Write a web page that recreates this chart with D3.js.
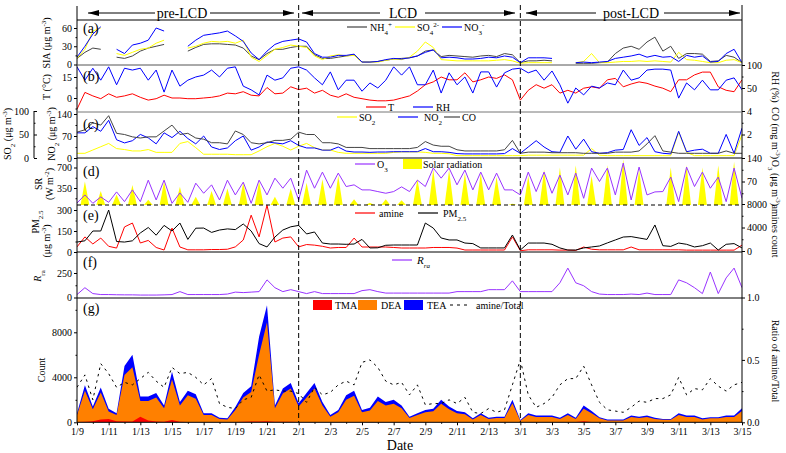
<!DOCTYPE html>
<html><head><meta charset="utf-8">
<script src="https://cdn.jsdelivr.net/npm/d3@7"></script>
<style>body{margin:0;background:#fff}svg{display:block}text{font-family:"Liberation Serif","Times New Roman",serif;fill:#000}</style>
</head><body><svg id="c" width="786" height="453"></svg>
<script>
// ---------------- DATA (two samples per day, index k -> day k/2) ----------------
const dayLabels = ["1/9","1/11","1/13","1/15","1/17","1/19","1/21","2/1","2/3","2/5","2/7","2/9","2/11","2/13","3/1","3/3","3/5","3/7","3/9","3/11","3/13","3/15"];
const periods = ["pre-LCD","LCD","post-LCD"];
// (a) SIA
const nh4 = [10,20,27,25,null,12,10,14,22,27,30,33,null,null,22,28,33,34,34,33,32,27,14,8,18,25,25,28,30,
 30,16,10,10,12,14,16,4,4,5,7,9,10,11,14,22,24,13,15,14,13,12,14,15,13,18,16,3,
 6,6,7,6,null,null,2,2,2,3,4,18,27,30,25,37,45,22,30,10,18,18,17,5,6,15,12,3];
const so4 = [10,25,55,60,null,18,15,20,25,27,35,40,null,null,27,30,35,38,37,38,35,40,12,5,15,25,28,32,30,
 28,14,8,14,16,14,15,4,4,4,7,9,8,12,22,37,28,8,7,6,6,6,6,6,7,8,6,2,
 3,3,3,3,null,null,3,5,18,3,3,4,5,5,6,5,6,5,4,20,8,7,5,3,3,7,8,3];
const no3 = [12,30,50,62,null,25,18,32,35,40,60,55,null,null,30,40,48,50,52,55,47,38,19,8,22,33,38,40,42,
 37,18,12,12,15,15,17,4,4,5,8,10,9,11,14,20,24,11,12,11,9,9,10,12,11,14,12,3,
 11,11,11,10,null,null,3,4,3,4,5,10,12,14,17,12,15,12,13,5,15,12,14,4,5,18,25,3];
// (b) T and RH
const temp = [-8,4,1.5,-0.5,3,0.5,1.5,3,0.5,-1.5,-0.5,2,0,0,-0.5,-0.5,0,0.5,1.5,3.5,3,4.5,2,1.5,7.5,3,3.5,8,6,
 7,3.5,5.5,2,0.5,3,0.5,-0.5,-1.5,-2,-2,-1.5,0,1.5,5,9.5,11.5,15,13,13,18,11.5,13,15,14,16.5,13,-1.5,
 5.5,9.5,7,9.5,3.5,5.5,3.5,7,8,7,13,14,8,10,11.5,10.5,8.5,7,4.5,13,13,16.5,18.5,18.5,8,5.5,4.5,13];
const rh = [96,67,93,67,96,57,93,89,93,67,89,41,89,54,67,74,78,89,74,93,96,54,46,35,78,67,72,93,96,
 89,72,57,85,46,67,67,43,61,50,67,96,78,96,57,57,89,39,83,57,74,39,85,85,52,83,91,93,
 83,89,67,87,57,17,50,35,54,50,61,57,89,67,72,89,91,91,89,28,61,46,67,46,46,67,72,46];
// (c) SO2, NO2, CO
const so2 = [10,10,17,24,31,20,18,15,15,18,12,12,12,31,35,22,8,8,8,8,7,7,7,15,24,31,25,17,25,
 31,22,17,17,12,10,10,10,10,10,10,12,13,13,13,12,10,10,9,5,5,5,5,5,5,5,5,5,
 6,6,6,6,6,6,6,6,20,6,5,5,5,5,5,5,5,5,5,55,12,5,5,5,5,5,5,50];
const no2 = [80,80,100,85,120,58,48,55,75,64,45,80,65,85,62,45,70,35,27,32,55,70,25,35,51,48,45,55,40,
 32,32,25,25,35,22,19,19,18,19,19,20,20,20,20,30,20,20,18,14,13,13,13,13,13,14,30,15,
 35,55,35,20,18,70,28,60,20,15,17,25,27,90,40,65,20,15,13,85,20,25,28,15,15,75,15,95];
const co = [2.2,2.4,3.0,2.8,3.6,2.1,2.0,1.8,1.7,1.8,1.8,2.3,2.8,2.0,2.1,1.7,1.6,1.3,1.3,1.2,2.3,2.0,1.3,1.2,1.3,1.5,1.5,1.6,2.2,
 2.0,2.0,1.3,1.3,1.2,0.9,0.9,0.9,0.8,0.8,0.8,0.8,0.8,0.8,0.9,1.4,1.1,1.0,1.0,0.7,0.6,0.6,0.6,0.6,0.6,0.7,1.5,0.4,
 0.5,0.5,0.5,0.45,0.45,0.45,0.45,0.4,0.4,0.4,0.4,0.5,0.5,0.5,0.6,1.2,1.9,0.6,0.5,0.4,0.4,0.4,0.4,0.4,0.4,0.6,0.4,0.4];
// (d) O3 and daily solar radiation peak (one per day)
const o3 = [6,30,5,24,8,39,10,45,10,74,15,74,5,36,8,65,35,60,15,74,30,68,5,74,30,80,50,80,15,
 104,50,98,50,95,55,60,45,45,40,35,40,54,40,74,55,110,80,110,60,104,45,98,45,95,45,45,30,
 98,40,98,35,89,30,95,20,110,70,110,30,125,15,113,30,39,40,83,10,113,55,98,50,83,10,110,20];
const srPeak = [460,300,240,400,150,460,370,200,300,340,440,460,200,340,
 440,500,560,160,100,160,140,500,660,660,600,600,540,80,
 560,660,700,740,560,740,840,660,60,700,740,700,740,800];
// (e) PM2.5 and amine count
const pm25 = [71,80,150,150,300,75,71,80,136,175,120,190,150,207,90,170,171,140,157,165,160,200,150,60,36,107,157,180,190,
 129,143,64,57,57,55,57,90,29,30,48,50,50,50,50,207,171,100,86,86,64,60,29,29,29,29,121,14,
 64,64,64,55,29,14,14,29,36,43,65,86,107,110,100,90,193,45,40,64,55,36,45,64,14,55,60,29];
const amine = [700,2400,1200,2200,800,500,4100,4760,1360,1800,600,170,3900,680,200,200,200,250,250,300,700,1870,6100,2400,7800,1530,2200,2400,700,
 1100,1000,800,510,600,600,2200,680,680,680,680,600,510,510,510,510,600,600,600,500,170,170,170,170,170,170,2400,50,
 200,200,200,200,150,150,100,680,300,200,200,200,200,680,200,200,200,200,200,200,150,150,150,150,150,150,150,1000];
// (f) R_ra
const rra = [30,100,40,30,30,28,27,27,25,25,25,27,30,60,30,30,30,30,30,35,55,50,55,60,180,100,60,80,60,
 40,60,40,40,40,40,40,70,80,60,45,45,45,45,45,45,45,45,45,60,60,60,60,80,80,80,170,60,
 60,60,60,60,150,300,150,120,60,35,30,30,30,35,30,45,30,30,30,180,150,100,40,260,40,200,300,100];
// (g) amine counts and ratio
const tma = [30,50,100,250,300,100,80,80,500,150,80,50,200,50,30,30,30,30,30,30,30,40,80,80,100,50,50,50,30,
 20,20,20,20,20,20,20,20,20,20,20,20,20,20,20,20,20,20,20,20,20,20,20,20,20,20,20,20,
 20,20,20,20,20,20,20,100,20,20,20,20,20,20,20,20,20,20,20,20,20,20,20,20,20,20,20,20];
const dea = [620,2750,1050,2400,650,550,4120,4820,1400,1750,2120,1200,3600,1450,2370,2070,620,620,270,220,1070,2160,2620,5920,8800,1200,2500,2950,1370,
 2180,2980,1480,480,880,1980,2330,880,1030,1880,1480,1630,1230,360,630,880,960,1630,1130,780,700,230,630,280,360,360,1680,120,
 630,450,450,450,280,630,280,1100,780,330,150,150,150,450,360,450,280,200,200,630,450,450,240,330,330,450,450,980];
const tea = [150,500,250,450,250,150,800,1100,400,400,400,250,700,300,400,400,150,150,100,100,250,400,500,1600,1500,250,450,500,300,
 400,500,300,150,200,400,450,200,250,400,300,350,250,120,150,200,220,350,250,200,180,100,150,100,120,120,300,60,
 150,130,130,130,100,150,100,300,200,100,80,80,80,130,120,130,100,80,80,150,130,130,90,100,100,130,130,250];
const ratio = [0.28,0.38,0.18,0.47,0.39,0.28,0.32,0.30,0.35,0.40,0.33,0.28,0.44,0.39,0.40,0.36,0.30,0.35,0.15,0.12,0.11,0.18,0.20,0.38,0.25,0.26,0.25,0.25,0.23,
 0.16,0.28,0.22,0.24,0.30,0.33,0.30,0.48,0.50,0.44,0.33,0.30,0.32,0.22,0.30,0.14,0.15,0.15,0.18,0.15,0.20,0.08,0.07,0.11,0.08,0.10,0.30,0.50,
 0.22,0.12,0.15,0.20,0.30,0.35,0.35,0.45,0.30,0.16,0.10,0.09,0.08,0.12,0.17,0.16,0.19,0.19,0.22,0.36,0.22,0.27,0.26,0.35,0.29,0.25,0.30,0.32];

// ---------------- LAYOUT ----------------
const svg = d3.select("#c");
const X0 = 77, X1 = 742;
const x = d3.scaleLinear().domain([0, 42]).range([X0, X1]);
const P = {a:[20,65], b:[65,112], c:[112,158], d:[158,205], e:[205,252], f:[252,298], g:[298,422.3]};
const C = {black:"#000", grey:"#444", yellow:"#ffff00", blue:"#0000ff", red:"#ff0000", purple:"#9933ff", orange:"#ff8000"};

const defs = svg.append("defs");
Object.entries(P).forEach(([k,[t,b]]) => {
  defs.append("clipPath").attr("id","cp-"+k).append("rect").attr("x",X0).attr("y",t).attr("width",X1-X0).attr("height",b-t);
});

// scales
const ySIA = d3.scaleLinear().domain([0,60]).range([64.5,28]);
const yT = d3.scaleLinear().domain([0,15]).range([98,77]);
const yRH = d3.scaleLinear().domain([0,100]).range([111,65]);
const yNO2 = d3.scaleLinear().domain([0,140]).range([158,114]);
const ySO2 = d3.scaleLinear().domain([0,100]).range([158,111]);
const yCO = d3.scaleLinear().domain([0,4]).range([158,111]);
const ySR = d3.scaleLinear().domain([0,700]).range([208.5,167.5]);
const yO3 = d3.scaleLinear().domain([0,140]).range([205,158]);
const yPM = d3.scaleLinear().domain([0,300]).range([252,210]);
const yAm = d3.scaleLinear().domain([0,8000]).range([251,204]);
const yR = d3.scaleLinear().domain([0,250]).range([297.5,273]);
const yCnt = d3.scaleLinear().domain([0,8000]).range([422.3,332.3]);
const yRatio = d3.scaleLinear().domain([0,1]).range([422.3,297.5]);

function drawLine(panel, arr, ys, color, w, dash){
  const g = svg.append("g").attr("clip-path","url(#cp-"+panel+")");
  const p = g.append("path")
    .attr("d", d3.line().defined(d=>d!=null).x((d,i)=>x(i/2)).y(d=>ys(d))(arr))
    .attr("fill","none").attr("stroke",color).attr("stroke-width",w||1).attr("stroke-linejoin","round");
  if (dash) p.attr("stroke-dasharray",dash);
}

// (a)
drawLine("a", nh4, ySIA, C.grey);
drawLine("a", so4, ySIA, C.yellow);
drawLine("a", no3, ySIA, C.blue);
// (b)
drawLine("b", temp, yT, C.red);
drawLine("b", rh, yRH, C.blue);
// (c)
drawLine("c", so2, ySO2, C.yellow);
drawLine("c", no2, yNO2, C.blue);
drawLine("c", co, yCO, C.grey);
// (d) solar radiation daily spikes + O3
const gd = svg.append("g").attr("clip-path","url(#cp-d)");
const srArea = d3.area().x(d=>x(d[0])).y0(205).y1(d=>Math.min(205, ySR(d[1])));
srPeak.forEach((p,n)=>{
  gd.append("path").attr("d", srArea([[n+0.22,0],[n+0.5,p],[n+0.78,0]])).attr("fill",C.yellow);
});
drawLine("d", o3, yO3, C.purple);
// (e)
drawLine("e", amine, yAm, C.red);
drawLine("e", pm25, yPM, C.black);
// (f)
drawLine("f", rra, yR, C.purple);
// (g) stacked counts
const rows = dea.map((d,i)=>({i:i, TMA:tma[i], DEA:dea[i], TEA:tea[i]}));
const stack = d3.stack().keys(["TMA","DEA","TEA"])(rows);
const gg = svg.append("g").attr("clip-path","url(#cp-g)");
const stackCol = {TMA:C.red, DEA:C.orange, TEA:C.blue};
stack.slice().reverse().forEach(s=>{
  gg.append("path").attr("d", d3.area().x(d=>x(d.data.i/2)).y0(yCnt(0)).y1(d=>yCnt(d[1]))(s)).attr("fill",stackCol[s.key]);
});
drawLine("g", ratio, yRatio, C.black, 1, "2.5,4");

// ---------------- FRAMES ----------------
const fr = svg.append("g").attr("stroke","#000").attr("fill","none");
fr.append("line").attr("x1",X0).attr("x2",X0).attr("y1",6).attr("y2",422.3);
fr.append("line").attr("x1",X1).attr("x2",X1).attr("y1",5).attr("y2",422.3);
[[20,"#000",null],[65,"#555",null],[112,"#777",null],[158,"#000",null],[205,"#000","4,3"],[252,"#000",null],[298,"#000",null],[422.3,"#000",null]].forEach(([y,c,d])=>{
  const l = fr.append("line").attr("x1",X0).attr("x2",X1).attr("y1",y).attr("y2",y).attr("stroke",c);
  if(d) l.attr("stroke-dasharray",d);
});
[14,28].forEach(dv=>{
  fr.append("line").attr("x1",x(dv)).attr("x2",x(dv)).attr("y1",5).attr("y2",422.3).attr("stroke-dasharray","5,3");
});

// ---------------- AXES ----------------
const fmtInt = d3.format("d");
function styleAxis(g){ g.select(".domain").remove(); g.selectAll("text").style("font-size","10px").style("font-family","Liberation Serif"); }
function leftAxis(scale, vals, xpos, minor, inward){
  const sz = inward ? -3 : 3;
  const g = svg.append("g").attr("transform",`translate(${xpos},0)`).call(d3.axisLeft(scale).tickValues(vals).tickSize(sz).tickPadding(inward?5:2).tickFormat(fmtInt));
  styleAxis(g);
  if(minor) svg.append("g").attr("transform",`translate(${xpos},0)`).call(d3.axisLeft(scale).tickValues(minor).tickSize(inward?-1.5:1.5).tickFormat("")).select(".domain").remove();
}
function rightAxis(scale, vals, fmt, minor){
  const g = svg.append("g").attr("transform",`translate(${X1},0)`).call(d3.axisRight(scale).tickValues(vals).tickSize(3).tickPadding(2).tickFormat(fmt||fmtInt));
  styleAxis(g);
  if(minor) svg.append("g").attr("transform",`translate(${X1},0)`).call(d3.axisRight(scale).tickValues(minor).tickSize(1.5).tickFormat("")).select(".domain").remove();
}
leftAxis(ySIA,[0,30,60],X0,[15,45]);
leftAxis(yT,[0,15],X0,[-7.5,7.5]);
leftAxis(yNO2,[0,70,140],X0,[35,105]);
leftAxis(ySR,[350,700],X0,[175,525]);
leftAxis(yPM,[0,150,300],X0,[75,225]);
leftAxis(yR,[0,250],X0,[125]);
leftAxis(yCnt,[0,4000,8000],X0,[2000,6000,10000]);
// outer SO2 axis
const so2x = 34;
svg.append("line").attr("x1",so2x).attr("x2",so2x).attr("y1",ySO2(100)).attr("y2",ySO2(0)).attr("stroke","#000");
leftAxis(ySO2,[0,50,100],so2x,[25,75],true);
rightAxis(yRH,[50,100],null,[75]);
rightAxis(yCO,[2,4],null,[1,3]);
rightAxis(yO3,[70,140],null,[35,105]);
rightAxis(yAm,[0,4000,8000],null,[2000,6000]);
rightAxis(yRatio,[0,0.5,1],d3.format(".1f"),[0.25,0.75]);
// x axis
const xa = svg.append("g").attr("transform",`translate(0,422.3)`).call(d3.axisBottom(x).tickValues(d3.range(0,43,2)).tickFormat((d,i)=>dayLabels[i]).tickSize(3).tickPadding(3));
styleAxis(xa);
svg.append("g").attr("transform",`translate(0,422.3)`).call(d3.axisBottom(x).tickValues(d3.range(1,42,2)).tickSize(1.5).tickFormat("")).select(".domain").remove();
svg.append("text").attr("x",400).attr("y",450).attr("text-anchor","middle").style("font-size","14px").text("Date");

// ---------------- HEADER ----------------
const hy = 13;
function arrowHead(xTip, dir){
  svg.append("path").attr("d",`M${xTip},${hy} L${xTip+dir*11},${hy-3} L${xTip+dir*11},${hy+3} Z`).attr("fill","#000");
}
function hline(x1,x2){ svg.append("line").attr("x1",x1).attr("x2",x2).attr("y1",hy).attr("y2",hy).attr("stroke","#000"); }
hline(88,155); hline(210,294); arrowHead(88,1); arrowHead(294,-1);
hline(302,380); hline(425,515); arrowHead(302,1); arrowHead(515,-1);
hline(526,596); hline(664,740); arrowHead(526,1); arrowHead(740,-1);
[[182,periods[0]],[403,periods[1]],[631,periods[2]]].forEach(([cx,tx])=>{
  svg.append("text").attr("x",cx).attr("y",hy+5).attr("text-anchor","middle").style("font-size","14px").text(tx);
});

// ---------------- PANEL LETTERS ----------------
[["(a)",33],["(b)",81],["(c)",129],["(d)",176],["(e)",220],["(f)",267],["(g)",313]].forEach(([s,y])=>{
  svg.append("text").attr("x",83).attr("y",y).style("font-size","14px").text(s);
});

// ---------------- LEGENDS ----------------
function legLine(x1,y,color,dash,len){ const l=svg.append("line").attr("x1",x1).attr("x2",x1+(len||20)).attr("y1",y).attr("y2",y).attr("stroke",color).attr("stroke-width",1.2); if(dash) l.attr("stroke-dasharray",dash); }
function legBox(x1,y,color){ svg.append("rect").attr("x",x1).attr("y",y-5).attr("width",19).attr("height",10).attr("fill",color); }
function legText(x1,y,parts){
  const t = svg.append("text").attr("x",x1).attr("y",y+4).style("font-size","10px");
  parts.forEach(p=>{
    const ts = t.append("tspan").text(p[0]);
    if(p[1]==="sub") ts.attr("baseline-shift","sub").style("font-size","7px");
    if(p[1]==="sup") ts.attr("baseline-shift","super").style("font-size","7px");
  });
}
// (a)
legLine(347,27,C.grey); legText(370,27,[["NH"],["4","sub"],["+","sup"]]);
legLine(395,27,C.yellow); legText(417,27,[["SO"],["4","sub"],["2-","sup"]]);
legLine(442,27,C.blue); legText(464,27,[["NO"],["3","sub"],["-","sup"]]);
// (b)
legLine(366,107,C.red); legText(388,107,[["T"]]);
legLine(413,107,C.blue); legText(436,107,[["RH"]]);
// (c)
legLine(337,117,C.yellow); legText(359,117,[["SO"],["2","sub"]]);
legLine(398,117,C.blue); legText(424,117,[["NO"],["2","sub"]]);
legLine(444,117,C.grey,null,16); legText(462,117,[["CO"]]);
// (d)
legLine(355,164,C.purple); legText(377,164,[["O"],["3","sub"]]);
legBox(403,164,C.yellow); legText(423,164,[["Solar radiation"]]);
// (e)
legLine(355,213,C.red); legText(379,213,[["amine"]]);
legLine(418,213,C.black); legText(443,213,[["PM"],["2.5","sub"]]);
// (f)
legLine(392,260,C.purple);
svg.append("text").attr("x",417).attr("y",264).style("font-size","11px").style("font-style","italic").text("R").append("tspan").attr("baseline-shift","sub").style("font-size","7px").style("font-style","italic").text("ra");
// (g)
legBox(313,305,C.red); legText(335,305,[["TMA"]]);
legBox(358,305,C.orange); legText(381,305,[["DEA"]]);
legBox(404,305,C.blue); legText(427,305,[["TEA"]]);
legLine(450,305,C.black,"3,4"); legText(476,305,[["amine/Total"]]);

// ---------------- AXIS TITLES ----------------
function vtitle(cx,cy,rot,parts,size){
  const t = svg.append("text").attr("transform",`translate(${cx},${cy}) rotate(${rot})`).attr("text-anchor","middle").style("font-size",(size||10)+"px");
  parts.forEach(p=>{
    const ts = t.append("tspan").text(p[0]);
    if(p[1]==="sub") ts.attr("baseline-shift","sub").style("font-size","7px");
    if(p[1]==="sup") ts.attr("baseline-shift","super").style("font-size","7px");
    if(p[1]==="it") ts.style("font-style","italic");
  });
}
vtitle(50,43,-90,[["SIA (μg m"],["-3","sup"],[")"]]);
vtitle(50,87,-90,[["T (°C)"]]);
vtitle(11,134,-90,[["SO"],["2","sub"],[" (μg m"],["-3","sup"],[")"]]);
vtitle(55,134,-90,[["NO"],["2","sub"],[" (μg m"],["-3","sup"],[")"]]);
vtitle(42,184,-90,[["SR"]]);
vtitle(53,184,-90,[["(W m"],["-2","sup"],[")"]]);
vtitle(39,222,-90,[["PM"],["2.5","sub"]]);
vtitle(50,241,-90,[["(μg m"],["-3","sup"],[")"]]);
vtitle(41,276,-90,[["R","it"],["ra","sub"]]);
vtitle(45,370,-90,[["Count"]]);
vtitle(772,87,90,[["RH (%)"]]);
vtitle(772,133,90,[["CO (mg m"],["-3","sup"],[")"]]);
vtitle(772,183,90,[["O"],["3","sub"],[" (μg m"],["-3","sup"],[")"]]);
vtitle(772,231,90,[["amines count"]]);
vtitle(772,361,90,[["Ratio of amine/Total"]]);
</script>
</body></html>
